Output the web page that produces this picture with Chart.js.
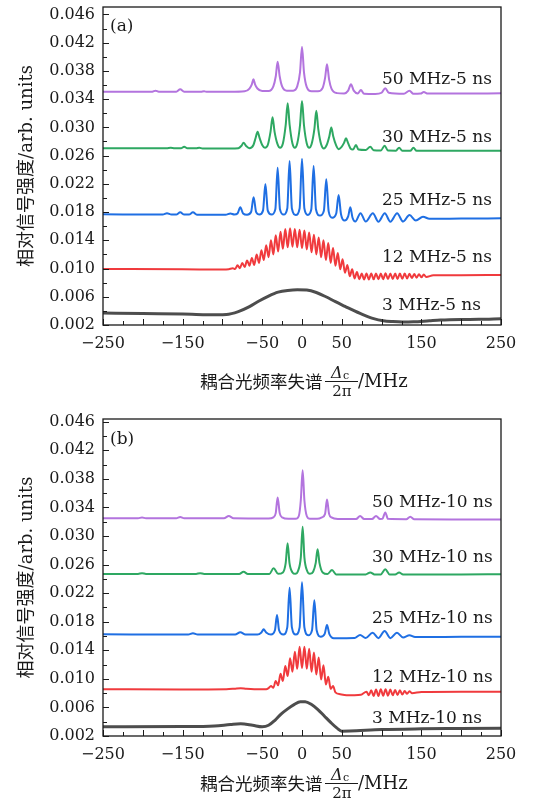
<!DOCTYPE html>
<html><head><meta charset="utf-8">
<script src="https://cdn.jsdelivr.net/npm/chart.js@4.4.0/dist/chart.umd.min.js"></script>
<style>
html,body{margin:0;padding:0;background:#fff;}
#wrap{position:relative;width:546px;height:804px;overflow:hidden;}
.c{position:absolute;left:0;width:546px;height:402px;}
</style></head><body>
<div id="wrap">
<div class="c" style="top:0"><canvas id="ca" width="546" height="402"></canvas></div>
<div class="c" style="top:402px"><canvas id="cb" width="546" height="402"></canvas></div>
</div>
<script>
// ---------- axis ticks ----------
const xTickValues = [-250,-150,-50,0,50,150,250];
const yTickValues = [0.002,0.006,0.010,0.014,0.018,0.022,0.026,0.030,0.034,0.038,0.042,0.046];

// ---------- series labels ----------
const labelsA = ['50 MHz-5 ns','30 MHz-5 ns','25 MHz-5 ns','12 MHz-5 ns','3 MHz-5 ns'];
const labelsB = ['50 MHz-10 ns','30 MHz-10 ns','25 MHz-10 ns','12 MHz-10 ns','3 MHz-10 ns'];

// ---------- panel (a), 5 ns : [detuning MHz, signal] ----------
const a50 = [[-250,.03505],[-200,.03503],[-188,.03506],[-184,.0352],[-180,.03506],[-158,.03505],[-153,.03539],[-148,.03505],[-127,.03504],[-123,.0351],[-119,.03503],[-90,.03503],[-72,.0351],[-66,.0355],[-63,.0361],[-61,.0368],[-59,.0361],[-56,.0355],[-50,.03515],[-42,.03515],[-36,.0358],[-33,.0372],[-30.6,.03929],[-28,.0372],[-25,.0358],[-19,.0352],[-11,.0352],[-6,.0358],[-2.5,.0378],[0,.04142],[2.5,.0378],[6,.0357],[12,.0351],[20,.0351],[26,.0356],[29,.0370],[31.4,.03893],[34,.0368],[37,.0355],[44,.03485],[53,.0348],[58,.0352],[61.5,.03609],[65,.0352],[70,.0348],[74,.03529],[78,.03475],[92,.03472],[100,.0349],[104.6,.03553],[109,.0349],[128,.03475],[135,.03519],[140,.03475],[149,.03478],[153,.035],[158,.03478],[200,.03478],[250,.03482]];
const a30 = [[-250,.02703],[-170,.02703],[-165,.0271],[-160,.02703],[-152,.02703],[-148,.02725],[-144,.02703],[-133,.02703],[-129,.02712],[-125,.027],[-90,.027],[-80,.02705],[-76,.0274],[-73.4,.02782],[-70.5,.0274],[-66,.02705],[-61,.0275],[-58.3,.0285],[-55.8,.02938],[-53.3,.0285],[-50,.0275],[-46.5,.0271],[-43,.0275],[-39.5,.0294],[-37,.03142],[-34.5,.0294],[-31,.0277],[-27.5,.0271],[-24,.0277],[-20.5,.0303],[-18,.0334],[-15.5,.0303],[-12,.0277],[-9,.0271],[-6,.0277],[-2.5,.0303],[0,.03373],[2.5,.0303],[6,.0277],[9,.0271],[12,.0276],[15.5,.0297],[18,.03235],[20.5,.0297],[24,.0276],[27.5,.0270],[31,.0275],[34.3,.0287],[36.8,.02999],[39.3,.0287],[43,.0274],[46,.0269],[49.5,.0272],[52.8,.0278],[55.3,.02845],[57.8,.0278],[61,.0270],[64,.02685],[67.8,.0275],[71,.02685],[80,.02678],[85.8,.02725],[90,.02675],[99,.02672],[103.8,.0274],[108,.02672],[118,.0267],[122,.02711],[126,.02668],[136,.02668],[140,.0271],[144,.02668],[200,.02669],[250,.02669]];
const a25 = [[-250,.01768],[-175,.01765],[-169.6,.01782],[-164,.01765],[-158,.01765],[-153,.01796],[-148,.01765],[-142,.01765],[-137,.01796],[-132,.01762],[-96,.01762],[-90,.0178],[-85,.01765],[-81,.0178],[-77.5,.01867],[-74,.0178],[-69,.01762],[-64,.0180],[-60.8,.02009],[-57.6,.0180],[-53.4,.01765],[-49,.0182],[-46,.02197],[-43,.0182],[-38.3,.01765],[-33.5,.0184],[-30.6,.02428],[-27.7,.0184],[-23,.01765],[-18.5,.0185],[-15.6,.02523],[-12.7,.0185],[-7.8,.0176],[-3,.0185],[0,.02556],[3,.0185],[7.3,.0176],[11.7,.0184],[14.6,.02452],[17.5,.0184],[22.5,.0175],[27.5,.0182],[30.5,.02264],[33.5,.0181],[38,.0172],[43,.0178],[46,.02041],[49,.0177],[53.5,.0168],[58,.0174],[60.7,.01867],[63.5,.0172],[67,.01665],[73.5,.01782],[80,.01665],[89,.01782],[96,.01663],[104,.01782],[111,.01663],[119.5,.01782],[127,.01665],[135,.01758],[143,.0168],[152,.01734],[160,.01705],[200,.01708],[250,.01711]];
const a12 = [[-250,.00993],[-150,.0099],[-100,.00985],[-92,.0099],[-87,.01005],[-84,.00992],[-81,.01045],[-78,.01005],[-75,.0108],[-72,.0102],[-69,.01115],[-66,.0104],[-63,.0115],[-60,.0105],[-57,.0120],[-54,.0108],[-51,.0126],[-48,.0112],[-45,.0133],[-42,.0116],[-39,.0140],[-36,.0120],[-33,.0147],[-30,.0124],[-27,.0152],[-24,.0128],[-21,.0156],[-18,.0130],[-15,.0157],[-12,.0131],[-9,.0156],[-6,.0130],[-3,.0155],[0,.0129],[3,.0154],[6,.0127],[9,.0151],[12,.0123],[15,.0148],[18,.0120],[21,.0144],[24,.0116],[27,.0140],[30,.0112],[33,.0136],[36,.0108],[39,.0129],[42,.0104],[45,.0122],[48,.0099],[51,.0113],[54,.0094],[57,.0105],[60,.0089],[63,.0099],[66,.0086],[69,.0095],[72,.00848],[75,.0093],[78,.00845],[81,.0093],[84,.00846],[87,.0093],[90,.00847],[93,.0093],[96,.00848],[99,.0093],[102,.00848],[105,.00932],[108,.0085],[111,.0093],[114,.0085],[117,.0093],[120,.00852],[123,.00928],[126,.00855],[129,.00928],[132,.0086],[135,.00925],[138,.00865],[141,.00922],[144,.0087],[147,.0092],[150,.00875],[153,.00915],[156,.0088],[165,.00905],[200,.00906],[250,.00908]];
const a3 = [[-250,.0037],[-200,.00362],[-150,.00355],[-106,.00345],[-95,.00348],[-80,.0039],[-66,.0046],[-54,.0054],[-42,.0061],[-30,.00665],[-18,.0069],[-6,.0070],[6,.00695],[18,.0066],[30,.0060],[42,.0053],[54,.00465],[66,.0040],[78,.0034],[90,.0029],[102,.0026],[114,.00248],[126,.00242],[140,.00245],[160,.0026],[174,.0027],[200,.00278],[222,.0028],[250,.0029]];

// ---------- panel (b), 10 ns ----------
const b50 = [[-250,.03248],[-206,.03248],[-201,.0326],[-196,.03248],[-158,.03248],[-153,.03265],[-148,.03248],[-98,.03248],[-92,.0328],[-86,.03248],[-42,.03245],[-36,.0326],[-33,.0332],[-30.6,.0354],[-28,.0332],[-25,.0326],[-17,.0324],[-8,.0324],[-4,.0328],[-1.5,.0350],[0.8,.0392],[3,.0350],[6,.0328],[10,.0324],[19,.0324],[25,.0326],[29,.0331],[31.4,.0351],[34,.0331],[37,.0326],[45,.03238],[68,.03238],[73,.0328],[78,.03238],[88,.03238],[93,.0328],[98,.03238],[101,.0324],[104.6,.0333],[108,.0324],[131,.03235],[136,.0327],[141,.03235],[200,.03232],[250,.0323]];
const b30 = [[-250,.02468],[-206,.02468],[-201,.0248],[-196,.02468],[-133,.02468],[-128,.0248],[-123,.02468],[-79,.02468],[-73.4,.0250],[-68,.02468],[-41,.02468],[-35.7,.02548],[-30,.0247],[-24,.0249],[-20.5,.0262],[-18.1,.02898],[-15.7,.0262],[-12,.0249],[-8.5,.0247],[-5,.0251],[-1.5,.0270],[0.8,.0313],[3,.0270],[6.5,.0251],[10,.0247],[14,.0250],[17.2,.0262],[19.6,.02814],[22,.0262],[26,.0249],[32,.02468],[37.7,.02524],[43,.02462],[80,.02462],[85.8,.0249],[91,.02462],[99,.02462],[104.6,.02534],[110,.02462],[117,.02462],[122,.0249],[127,.02462],[200,.02462],[250,.02465]];
const b25 = [[-250,.01624],[-143,.0162],[-137,.0164],[-131,.0162],[-84,.0162],[-77.5,.01652],[-71,.0162],[-56,.0162],[-51,.0165],[-48.2,.01694],[-45,.0165],[-39,.0162],[-34,.0168],[-31.4,.01894],[-28.8,.0168],[-23.5,.0162],[-18.5,.0172],[-15.6,.02276],[-12.7,.0172],[-7.8,.0162],[-3,.0172],[0,.02352],[3,.0172],[7.8,.0161],[12.6,.0168],[15.5,.0210],[18.4,.0168],[23.5,.0159],[28.5,.0163],[31.4,.01754],[34.3,.0163],[40,.01568],[50,.0157],[66,.01572],[73,.01614],[80,.01572],[88.7,.01646],[96,.0157],[103.8,.0167],[111,.0157],[119.3,.01646],[127,.0158],[135,.0161],[142,.01585],[200,.01588],[250,.0159]];
const b12 = [[-250,.00854],[-150,.00852],[-95,.00855],[-85,.00862],[-77,.0087],[-70,.00862],[-60,.00856],[-45,.00855],[-42,.0087],[-39,.0090],[-36,.00875],[-33,.0097],[-30,.0091],[-27,.0107],[-24,.0097],[-21,.0118],[-18,.0104],[-15,.0129],[-12,.0110],[-9,.0138],[-6,.0114],[-3,.0145],[0,.0115],[3,.0145],[6,.0114],[9,.0142],[12,.0110],[15,.0137],[18,.0106],[21,.0130],[24,.0099],[27,.0119],[30,.0092],[33,.0103],[36,.0086],[39,.0090],[42,.0081],[48,.00785],[56,.00772],[66,.00772],[74,.00778],[81,.0082],[84,.0077],[87,.0084],[90,.0076],[93,.00852],[96,.0076],[99,.00855],[102,.00762],[105,.00855],[108,.00765],[111,.0085],[114,.0077],[117,.00845],[120,.00775],[123,.0084],[126,.0078],[129,.0083],[132,.0079],[135,.00826],[138,.008],[150,.00815],[200,.0082],[250,.0082]];
const b3 = [[-250,.0033],[-150,.00332],[-110,.0034],[-90,.0036],[-77,.0037],[-62,.0035],[-50,.0033],[-42,.0035],[-34,.0042],[-26,.0051],[-18,.0058],[-10,.0064],[-2,.0068],[4,.0068],[12,.0064],[20,.0057],[28,.0048],[36,.0039],[44,.0031],[50,.00268],[60,.0027],[100,.0029],[150,.003],[200,.00305],[250,.0031]];

// ---------- styling ----------
const COLORS = ['#b374de','#2ea862','#1f6fe3','#f03a3d','#4d4d4d'];
const WIDTHS = [2,2,2,2,3];
const SERIF = '"DejaVu Serif", "Liberation Serif", serif';
const INK = '#1a1a1a';

function fmtX(v){ return v < 0 ? '\u2212' + (-v) : String(v); }

function makeDatasets(list){
  return list.map((pts,i)=>({
    data: pts.map(p=>({x:p[0], y:p[1]})),
    borderColor: COLORS[i], borderWidth: WIDTHS[i],
    pointRadius: 0, fill: false, cubicInterpolationMode: 'monotone'
  }));
}

function decorPlugin(cfg){
  return {
    id: 'decor',
    afterDatasetsDraw(chart){
      const ctx = chart.ctx, a = chart.chartArea;
      const xs = chart.scales.x, ys = chart.scales.y;
      ctx.save();
      ctx.strokeStyle = INK; ctx.lineWidth = 1;
      for (let v=-250; v<=250; v+=25){
        const px = Math.round(xs.getPixelForValue(v))+0.5;
        const len = (v % 50 === 0) ? 6 : 4;
        ctx.beginPath(); ctx.moveTo(px, a.bottom); ctx.lineTo(px, a.bottom-len); ctx.stroke();
      }
      for (let k=0; k<=22; k++){
        const v = 0.002 + k*0.002;
        const py = Math.round(ys.getPixelForValue(v))+0.5;
        const len = (k % 2 === 0) ? 6 : 4;
        ctx.beginPath(); ctx.moveTo(a.left, py); ctx.lineTo(a.left+len, py); ctx.stroke();
      }
      ctx.lineWidth = 1.3;
      ctx.strokeRect(a.left, a.top, a.right-a.left, a.bottom-a.top);
      ctx.restore();
    },
    afterDraw(chart){
      const ctx = chart.ctx, a = chart.chartArea;
      ctx.save();
      ctx.fillStyle = INK;
      ctx.font = '17px ' + SERIF; ctx.textAlign='left'; ctx.textBaseline='alphabetic';
      ctx.fillText(cfg.panel, 110, cfg.panelY);
      ctx.font = '17px ' + SERIF;
      cfg.labels.forEach((t,i)=> ctx.fillText(t, cfg.labelX, cfg.labelY[i]));
      // y title
      ctx.save();
      ctx.translate(32, (a.top+a.bottom)/2);
      ctx.rotate(-Math.PI/2);
      ctx.textAlign='center'; ctx.textBaseline='alphabetic';
      ctx.font = '18px ' + SERIF + ', "Noto Sans CJK SC"';
      ctx.fillText('相对信号强度/arb. units', 0, 0);
      ctx.restore();
      // x title with fraction
      ctx.textAlign='left'; ctx.textBaseline='alphabetic';
      ctx.font = '17.5px "Noto Sans CJK SC"';
      ctx.fillText('耦合光频率失谱', 200, 388);
      ctx.font = 'italic 16px ' + SERIF;
      ctx.fillText('\u0394', 331, 378);
      ctx.font = '11px ' + SERIF;
      ctx.fillText('c', 343, 379);
      ctx.lineWidth = 1; ctx.strokeStyle = INK;
      ctx.beginPath(); ctx.moveTo(325, 381.5); ctx.lineTo(358, 381.5); ctx.stroke();
      ctx.font = '15px ' + SERIF; ctx.textAlign='center';
      ctx.fillText('2\u03c0', 342, 396);
      ctx.textAlign='left'; ctx.font = '18px ' + SERIF;
      ctx.fillText('/MHz', 358, 387);
      ctx.restore();
    }
  };
}

function makeChart(id, series, cfg){
  return new Chart(document.getElementById(id), {
    type: 'line',
    data: { datasets: makeDatasets(series) },
    options: {
      responsive: false, animation: false, devicePixelRatio: 1,
      layout: { padding: { left: 0, right: 45, top: cfg.padTop, bottom: 0 } },
      plugins: { legend: {display:false}, tooltip: {enabled:false} },
      scales: {
        x: {
          type: 'linear', min: -250, max: 250,
          afterBuildTicks: s => { s.ticks = xTickValues.map(v=>({value:v})); },
          afterFit: s => { s.height = cfg.xHeight; s.paddingLeft = 0; s.paddingRight = 0; },
          ticks: { font: {family: SERIF, size: 16}, color: INK, padding: 9, maxRotation: 0, autoSkip: false, callback: v => fmtX(v) },
          grid: { display: false, drawTicks: false }, border: { display: false }
        },
        y: {
          type: 'linear', min: 0.002, max: cfg.yMax,
          afterBuildTicks: s => { s.ticks = yTickValues.map(v=>({value:v})); },
          afterFit: s => { s.width = 103; s.paddingTop = 0; s.paddingBottom = 0; },
          ticks: { font: {family: SERIF, size: 16}, color: INK, padding: 8, autoSkip: false, callback: v => v.toFixed(3) },
          grid: { display: false, drawTicks: false }, border: { display: false }
        }
      }
    },
    plugins: [decorPlugin(cfg)]
  });
}

makeChart('ca', [a50,a30,a25,a12,a3], {
  padTop: 7, xHeight: 77, yMax: 0.04705, panel: '(a)', panelY: 31,
  labels: labelsA, labelX: 382, labelY: [84, 141.7, 205, 262, 310]
});
makeChart('cb', [b50,b30,b25,b12,b3], {
  padTop: 17, xHeight: 68, yMax: 0.04638, panel: '(b)', panelY: 42,
  labels: labelsB, labelX: 372, labelY: [105, 159.7, 220.7, 279.7, 321.3]
});
</script>
</body></html>
